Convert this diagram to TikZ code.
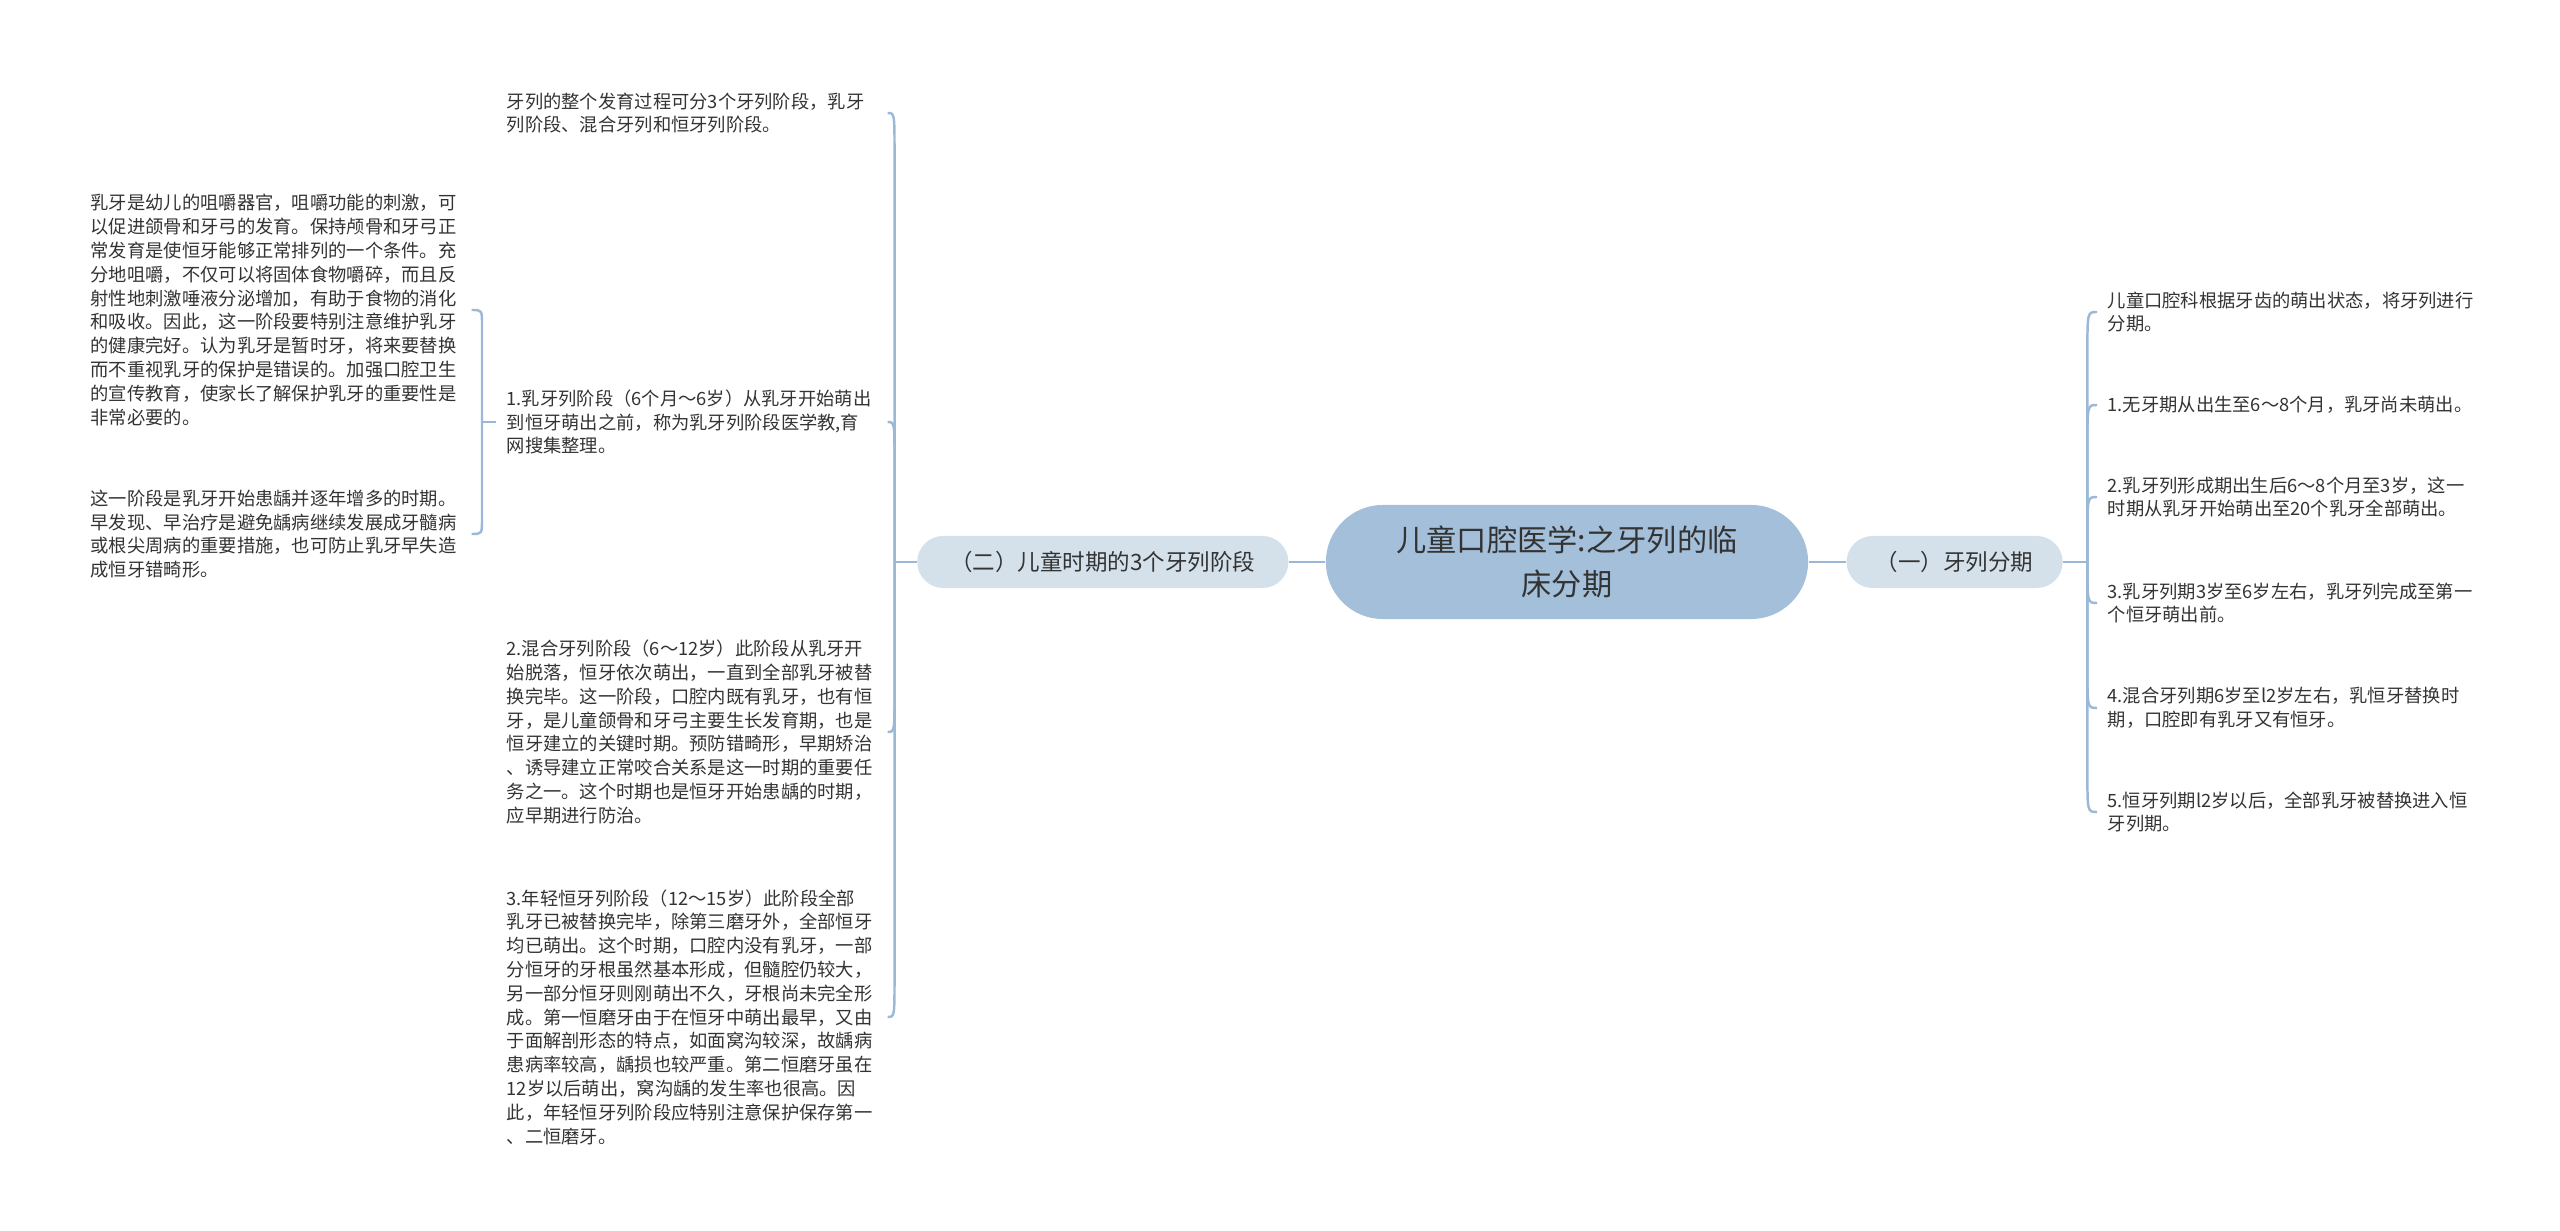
\documentclass[tikz,border=0pt]{standalone}
\usepackage{fontspec}
\setmainfont{Noto Sans CJK SC}
\usetikzlibrary{positioning, calc}
\definecolor{RootBlue}{HTML}{A3BFDA}
\definecolor{BranchBlue}{HTML}{D5E1EA}
\definecolor{LinkBlue}{HTML}{9BB9D6}
\definecolor{TextGray}{HTML}{333333}
\tikzset{
  rootbox/.style={fill=RootBlue, rounded corners=0.57cm, minimum width=4.82cm, minimum height=1.14cm, align=center, text=TextGray, font=\fontsize{8.6}{12.4}\selectfont},
  branchbox/.style={fill=BranchBlue, rounded corners=0.26cm, minimum height=0.52cm, align=center, text=TextGray, font=\fontsize{6.4}{8}\selectfont},
  leaf/.style={align=left, text width=3.7cm, inner sep=1mm, anchor=west, text=TextGray, font=\fontsize{5.2}{6.77}\selectfont},
  link/.style={draw=LinkBlue, line width=0.7pt}
}

\begin{document}
\begin{tikzpicture}[x=0.01cm, y=-0.01cm]
\useasboundingbox (0,0) rectangle (2560,1231);
% centre and the two branches
\node[rootbox] (root) at (1567,562) {儿童口腔医学:之牙列的临\\床分期};
\node[branchbox, right=0.37cm of root, minimum width=2.16cm] (periodbranch) {（一）牙列分期};
\node[branchbox, left=0.36cm of root, minimum width=3.71cm] (stagebranch) {（二）儿童时期的3个牙列阶段};
\draw[link] (root) -- (periodbranch);
\draw[link] (root) -- (stagebranch);

% right side
\node[leaf] (periodintro) at (2097,312) {儿童口腔科根据牙齿的萌出状态，将牙列进行\\分期。};
\node[leaf] (periodone) at (2097,405) {1.无牙期从出生至6～8个月，乳牙尚未萌出。};
\node[leaf] (periodtwo) at (2097,497) {2.乳牙列形成期出生后6～8个月至3岁，这一\\时期从乳牙开始萌出至20个乳牙全部萌出。};
\node[leaf] (periodthree) at (2097,603) {3.乳牙列期3岁至6岁左右，乳牙列完成至第一\\个恒牙萌出前。};
\node[leaf] (periodfour) at (2097,708) {4.混合牙列期6岁至l2岁左右，乳恒牙替换时\\期，口腔即有乳牙又有恒牙。};
\node[leaf] (periodfive) at (2097,812) {5.恒牙列期l2岁以后，全部乳牙被替换进入恒\\牙列期。};
\coordinate (periodspine) at ($(periodbranch.east)+(24,0)$);
\draw[link] (periodbranch) -- (periodspine);
\draw[link] (periodspine) -- ($(periodspine |- periodintro.west)+(0,40)$) .. controls (periodspine |- periodintro.west) .. (periodintro.west);
\draw[link] (periodspine) -- ($(periodspine |- periodone.west)+(0,40)$) .. controls (periodspine |- periodone.west) .. (periodone.west);
\draw[link] (periodspine) -- ($(periodspine |- periodtwo.west)+(0,40)$) .. controls (periodspine |- periodtwo.west) .. (periodtwo.west);
\draw[link] (periodspine) -- ($(periodspine |- periodthree.west)+(0,-40)$) .. controls (periodspine |- periodthree.west) .. (periodthree.west);
\draw[link] (periodspine) -- ($(periodspine |- periodfour.west)+(0,-40)$) .. controls (periodspine |- periodfour.west) .. (periodfour.west);
\draw[link] (periodspine) -- ($(periodspine |- periodfive.west)+(0,-40)$) .. controls (periodspine |- periodfive.west) .. (periodfive.west);

% left side
\node[leaf] (stageintro) at (496,113) {牙列的整个发育过程可分3个牙列阶段，乳牙\\列阶段、混合牙列和恒牙列阶段。};
\node[leaf] (stageone) at (496,422) {1.乳牙列阶段（6个月～6岁）从乳牙开始萌出\\到恒牙萌出之前，称为乳牙列阶段医学教,育\\网搜集整理。};
\node[leaf] (stagetwo) at (496,732) {2.混合牙列阶段（6～12岁）此阶段从乳牙开\\始脱落，恒牙依次萌出，一直到全部乳牙被替\\换完毕。这一阶段，口腔内既有乳牙，也有恒\\牙，是儿童颌骨和牙弓主要生长发育期，也是\\恒牙建立的关键时期。预防错畸形，早期矫治\\、诱导建立正常咬合关系是这一时期的重要任\\务之一。这个时期也是恒牙开始患龋的时期，\\应早期进行防治。};
\node[leaf] (stagethree) at (496,1017) {3.年轻恒牙列阶段（12～15岁）此阶段全部\\乳牙已被替换完毕，除第三磨牙外，全部恒牙\\均已萌出。这个时期，口腔内没有乳牙，一部\\分恒牙的牙根虽然基本形成，但髓腔仍较大，\\另一部分恒牙则刚萌出不久，牙根尚未完全形\\成。第一恒磨牙由于在恒牙中萌出最早，又由\\于面解剖形态的特点，如面窝沟较深，故龋病\\患病率较高，龋损也较严重。第二恒磨牙虽在\\12岁以后萌出，窝沟龋的发生率也很高。因\\此，年轻恒牙列阶段应特别注意保护保存第一\\、二恒磨牙。};
\coordinate (stagespine) at ($(stagebranch.west)+(-22,0)$);
\draw[link] (stagebranch) -- (stagespine);
\draw[link] (stagespine) -- ($(stagespine |- stageintro.east)+(0,40)$) .. controls (stagespine |- stageintro.east) .. (stageintro.east);
\draw[link] (stagespine) -- ($(stagespine |- stageone.east)+(0,40)$) .. controls (stagespine |- stageone.east) .. (stageone.east);
\draw[link] (stagespine) -- ($(stagespine |- stagetwo.east)+(0,-40)$) .. controls (stagespine |- stagetwo.east) .. (stagetwo.east);
\draw[link] (stagespine) -- ($(stagespine |- stagethree.east)+(0,-40)$) .. controls (stagespine |- stagethree.east) .. (stagethree.east);

% children of stage one
\node[leaf] (primarycare) at (80,310) {乳牙是幼儿的咀嚼器官，咀嚼功能的刺激，可\\以促进颌骨和牙弓的发育。保持颅骨和牙弓正\\常发育是使恒牙能够正常排列的一个条件。充\\分地咀嚼，不仅可以将固体食物嚼碎，而且反\\射性地刺激唾液分泌增加，有助于食物的消化\\和吸收。因此，这一阶段要特别注意维护乳牙\\的健康完好。认为乳牙是暂时牙，将来要替换\\而不重视乳牙的保护是错误的。加强口腔卫生\\的宣传教育，使家长了解保护乳牙的重要性是\\非常必要的。};
\node[leaf] (primarycaries) at (80,534) {这一阶段是乳牙开始患龋并逐年增多的时期。\\早发现、早治疗是避免龋病继续发展成牙髓病\\或根尖周病的重要措施，也可防止乳牙早失造\\成恒牙错畸形。};
\coordinate (primaryspine) at ($(stageone.west)+(-14,0)$);
\draw[link] (stageone) -- (primaryspine);
\draw[link] (primaryspine) -- ($(primaryspine |- primarycare.east)+(0,15)$) .. controls (primaryspine |- primarycare.east) .. (primarycare.east);
\draw[link] (primaryspine) -- ($(primaryspine |- primarycaries.east)+(0,-15)$) .. controls (primaryspine |- primarycaries.east) .. (primarycaries.east);
\end{tikzpicture}
\end{document}
